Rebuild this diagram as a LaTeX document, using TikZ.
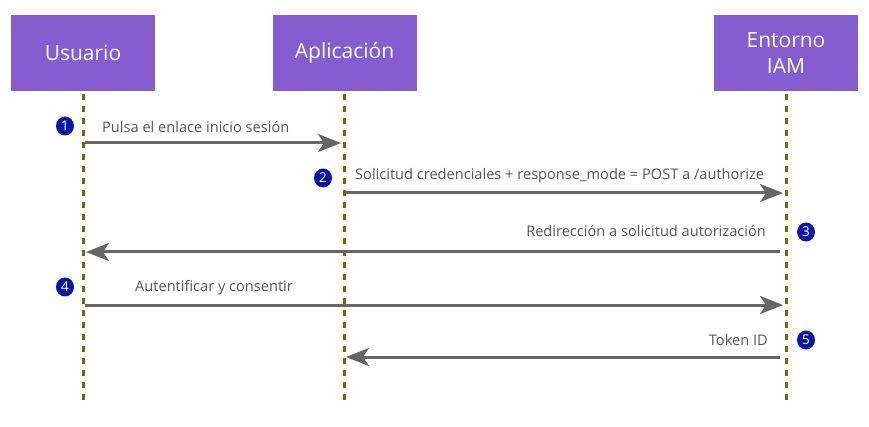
\documentclass[tikz,border=0pt]{standalone}
\usepackage{fontspec}
\setmainfont{Open Sans}
\usetikzlibrary{arrows.meta}
\definecolor{boxpurple}{HTML}{845ED1}
\definecolor{lifeolive}{HTML}{6E6E00}
\definecolor{msggray}{HTML}{666666}
\definecolor{labgray}{HTML}{555555}
\definecolor{badgeblue}{HTML}{0A17A6}
\tikzset{
  actor/.style={fill=boxpurple, draw=none, minimum width=144pt, minimum height=76pt, text=white, font=\fontsize{21}{26}\selectfont, align=center, inner sep=0pt},
  lifeline/.style={draw=lifeolive, line width=3pt, dash pattern=on 6pt off 6pt},
  msg/.style={draw=msggray, line width=3pt, -{Stealth[length=23pt,width=18pt,inset=6pt]}},
  msglabel/.style={text=labgray, font=\fontsize{14.6}{17}\selectfont, inner sep=0pt},
  badge/.style={ellipse, fill=badgeblue, text=white, inner sep=0pt, minimum width=18pt, minimum height=19pt, font=\fontsize{13.5}{15}\selectfont},
}
\usetikzlibrary{shapes.geometric}
\begin{document}
\begin{tikzpicture}[x=1pt,y=-1pt]
\useasboundingbox (0,0) rectangle (869,427);
\node[actor] (u) at (83,53) {Usuario};
\node[actor] (a) at (344.5,53) {Aplicación};
\node[actor] (e) at (786,53) {Entorno\\IAM};
\coordinate (ue) at (83,403);
\coordinate (ae) at (344.5,403);
\coordinate (ee) at (786,403);
\draw[lifeline] (u.south) ++(0,3) -- (ue);
\draw[lifeline] (a.south) ++(0,3) -- (ae);
\draw[lifeline] (e.south) ++(0,3) -- (ee);
% message 1
\coordinate (m1s) at (85,143);
\coordinate (m1e) at (341,143);
\draw[msg] (m1s) -- (m1e);
\node[msglabel, anchor=west] (l1) at (102,127) {Pulsa el enlace inicio sesión};
\node[badge] (b1) at (65,126) {1};
% message 2
\coordinate (m2s) at (346,193);
\coordinate (m2e) at (783,193);
\draw[msg] (m2s) -- (m2e);
\node[msglabel, anchor=west] (l2) at (355,176) {Solicitud credenciales + response\_mode = POST a /authorize};
\node[badge] (b2) at (323,178) {2};
% message 3
\coordinate (m3s) at (780,252);
\coordinate (m3e) at (86,252);
\draw[msg] (m3s) -- (m3e);
\node[msglabel, anchor=east] (l3) at (766,231) {Redirección a solicitud autorización};
\node[badge] (b3) at (806,232) {3};
% message 4
\coordinate (m4s) at (85,305);
\coordinate (m4e) at (783,305);
\draw[msg] (m4s) -- (m4e);
\node[msglabel, anchor=west] (l4) at (135,288) {Autentificar y consentir};
\node[badge] (b4) at (65,287) {4};
% message 5
\coordinate (m5s) at (780,357);
\coordinate (m5e) at (346,357);
\draw[msg] (m5s) -- (m5e);
\node[msglabel, anchor=east] (l5) at (768,340) {Token ID};
\node[badge] (b5) at (806,340) {5};
\end{tikzpicture}
\end{document}
